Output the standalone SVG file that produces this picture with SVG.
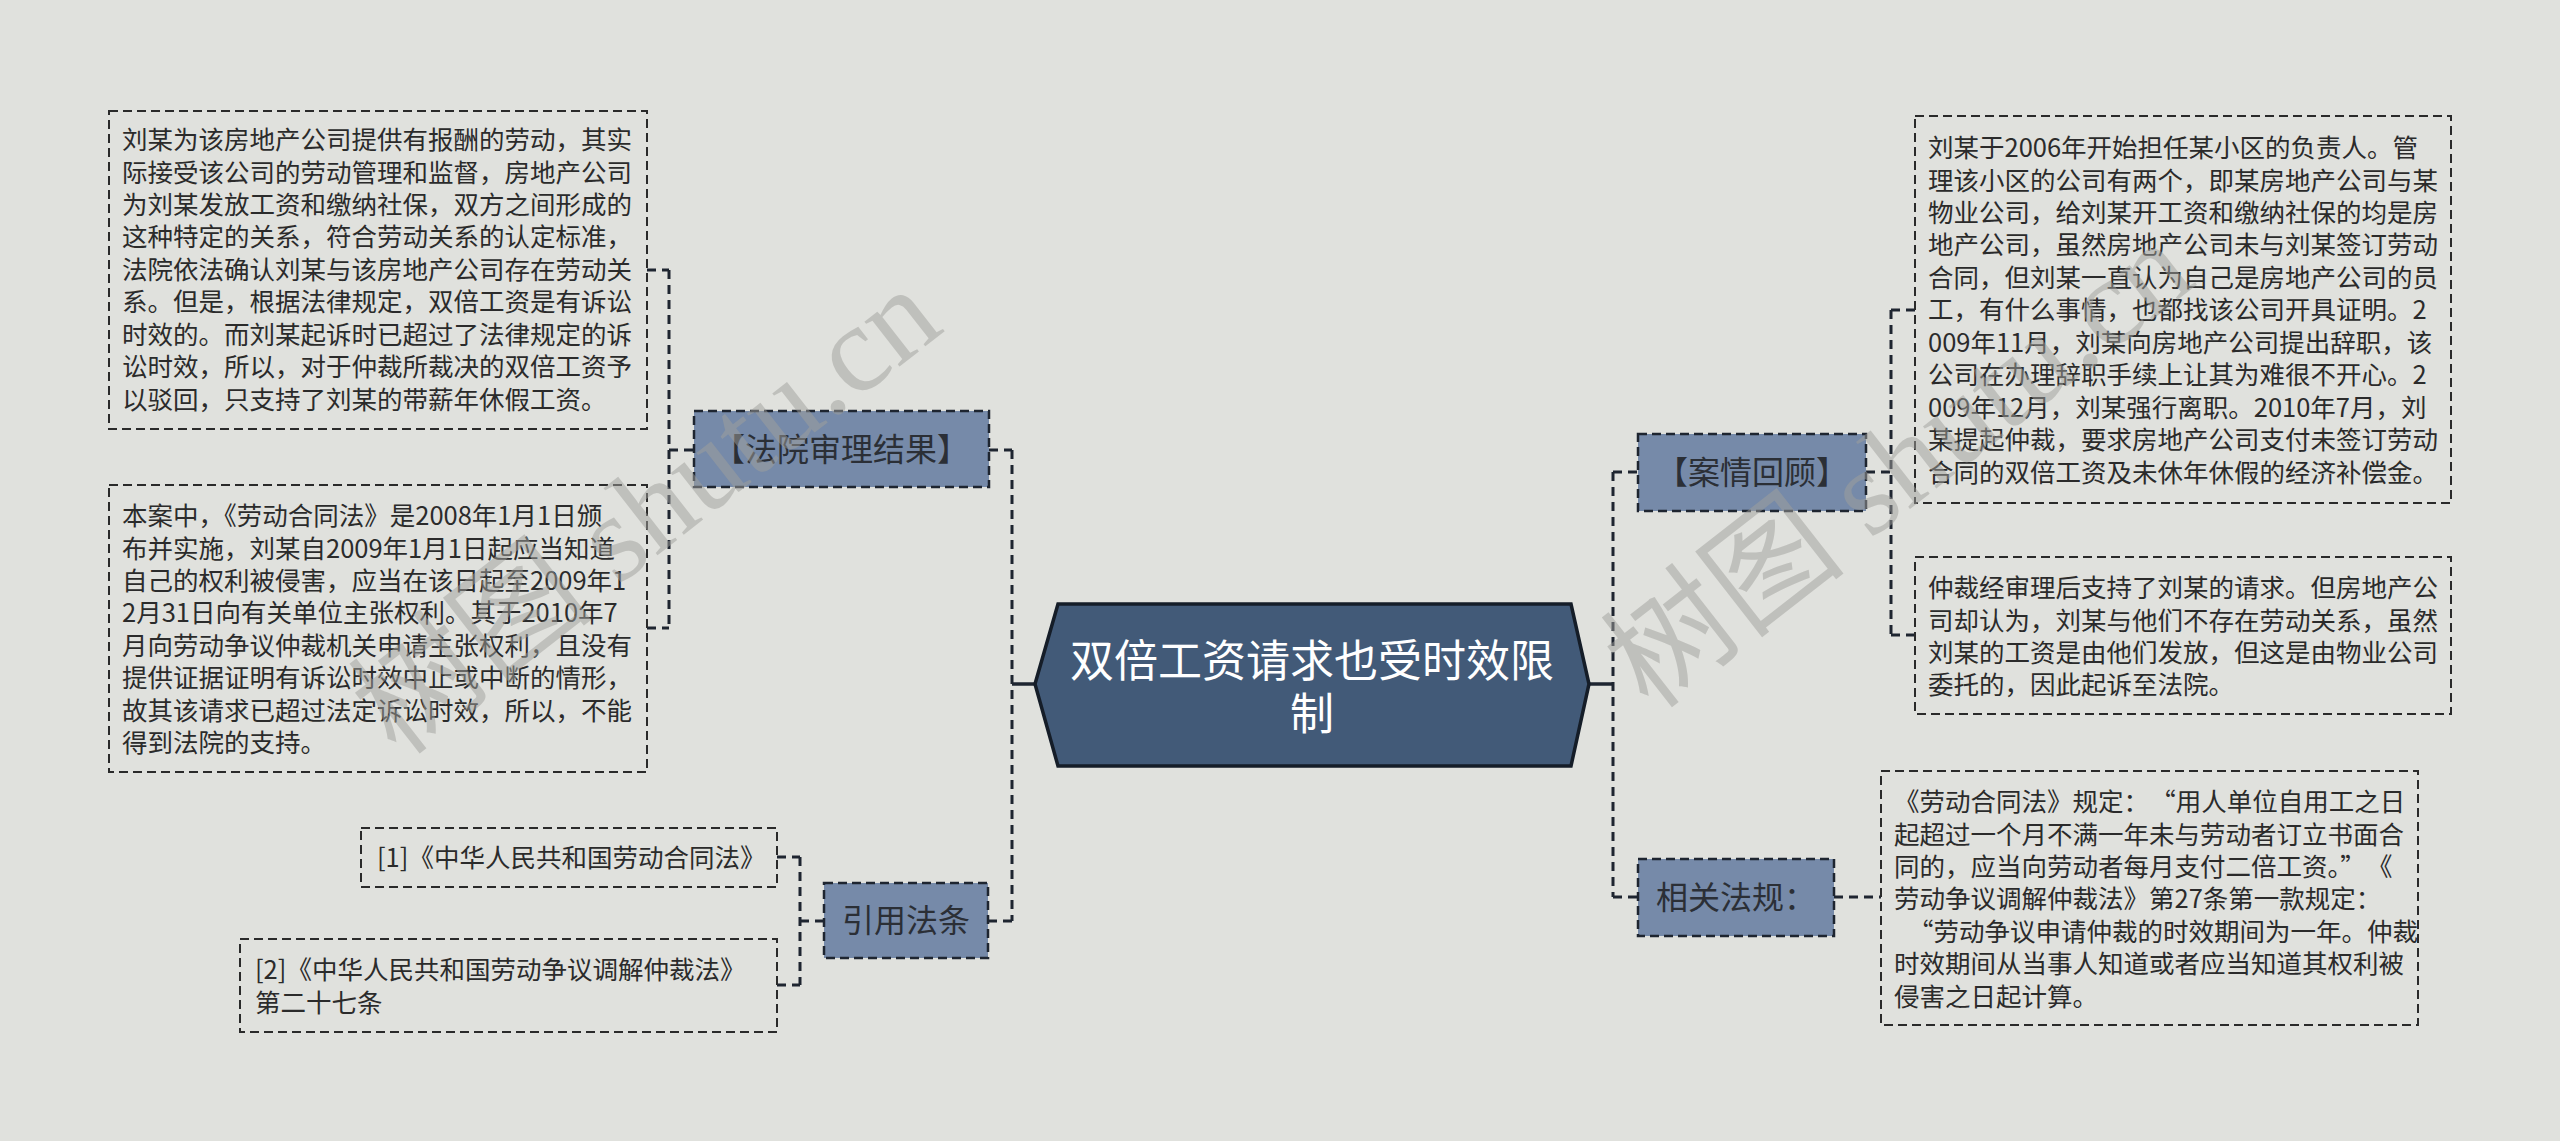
<svg xmlns="http://www.w3.org/2000/svg" width="2560" height="1141" viewBox="0 0 2560 1141">
<style>
.leaf{fill:none;stroke:#2a2a2a;stroke-width:2;stroke-dasharray:9 5}
.l1{fill:#768aa9;stroke:#1e2530;stroke-width:2.5;stroke-dasharray:9 5}
.lt{font-family:"Noto Sans CJK SC","Noto Sans",sans-serif;font-size:25.5px;fill:#2b2b2b}
.t1{font-family:"Noto Sans CJK SC","Noto Sans",sans-serif;font-size:32px;fill:#2b2f36;text-anchor:middle}
.tc{font-family:"Noto Sans CJK SC","Noto Sans",sans-serif;font-size:44px;fill:#ffffff;text-anchor:middle}
.c{fill:none;stroke:#1e2530;stroke-width:3;stroke-dasharray:9 6}
.cs{fill:none;stroke:#1e2530;stroke-width:3.5}
.wm{font-family:"Liberation Serif","Noto Sans CJK SC",serif;font-size:124px;fill:#a0a09c;opacity:0.5}
</style>
<rect x="0" y="0" width="2560" height="1141" fill="#e0e1dd"/>

<g id="connectors">
<path class="cs" d="M1035 684 H1012"/>
<path class="c" d="M1012 450 V921 M989 450 H1012 M988 921 H1012"/>
<path class="c" d="M669 270 V628 M647 270 H669 M647 628 H669 M669 450 H694"/>
<path class="c" d="M800 857 V985 M777 857 H800 M777 985 H800 M800 921 H824"/>
<path class="cs" d="M1589 684 H1613"/>
<path class="c" d="M1613 472 V897 M1613 472 H1638 M1613 897 H1638"/>
<path class="c" d="M1891 310 V635 M1866 472 H1891 M1891 310 H1915 M1891 635 H1915"/>
<path class="c" d="M1834 897 H1881"/>
</g>

<g id="center">
<polygon points="1035,684 1058,604 1571,604 1589,684 1571,766 1058,766" fill="#425a78" stroke="#151d28" stroke-width="3.5"/>
<text class="tc" x="1312" y="677">双倍工资请求也受时效限</text>
<text class="tc" x="1312" y="730">制</text>
</g>

<g id="n-fayuan">
<rect class="l1" x="694" y="411" width="295" height="76"/>
<text class="t1" x="841" y="461">【法院审理结果】</text>
</g>
<g id="n-yinyong">
<rect class="l1" x="824" y="883" width="164" height="75"/>
<text class="t1" x="906" y="932">引用法条</text>
</g>
<g id="n-anqing">
<rect class="l1" x="1638" y="434" width="228" height="77"/>
<text class="t1" x="1752" y="484">【案情回顾】</text>
</g>
<g id="n-fagui">
<rect class="l1" x="1638" y="859" width="196" height="77"/>
<text class="t1" x="1736" y="909">相关法规：</text>
</g>

<g id="leaf-l1">
<rect class="leaf" x="109" y="111" width="538" height="318"/>
<text class="lt" x="122" y="149">刘某为该房地产公司提供有报酬的劳动，其实</text>
<text class="lt" x="122" y="181.5">际接受该公司的劳动管理和监督，房地产公司</text>
<text class="lt" x="122" y="214">为刘某发放工资和缴纳社保，双方之间形成的</text>
<text class="lt" x="122" y="246.4">这种特定的关系，符合劳动关系的认定标准，</text>
<text class="lt" x="122" y="278.8">法院依法确认刘某与该房地产公司存在劳动关</text>
<text class="lt" x="122" y="311.3">系。但是，根据法律规定，双倍工资是有诉讼</text>
<text class="lt" x="122" y="343.7">时效的。而刘某起诉时已超过了法律规定的诉</text>
<text class="lt" x="122" y="376.2">讼时效，所以，对于仲裁所裁决的双倍工资予</text>
<text class="lt" x="122" y="408.6">以驳回，只支持了刘某的带薪年休假工资。</text>
</g>

<g id="leaf-l2">
<rect class="leaf" x="109" y="485" width="538" height="287"/>
<text class="lt" x="122" y="525">本案中，《劳动合同法》是2008年1月1日颁</text>
<text class="lt" x="122" y="557.5">布并实施，刘某自2009年1月1日起应当知道</text>
<text class="lt" x="122" y="590">自己的权利被侵害，应当在该日起至2009年1</text>
<text class="lt" x="122" y="622.4">2月31日向有关单位主张权利。其于2010年7</text>
<text class="lt" x="122" y="654.8">月向劳动争议仲裁机关申请主张权利，且没有</text>
<text class="lt" x="122" y="687.3">提供证据证明有诉讼时效中止或中断的情形，</text>
<text class="lt" x="122" y="719.7">故其该请求已超过法定诉讼时效，所以，不能</text>
<text class="lt" x="122" y="752.2">得到法院的支持。</text>
</g>

<g id="leaf-c1">
<rect class="leaf" x="361" y="828" width="416" height="59"/>
<text class="lt" x="377" y="867">[1]《中华人民共和国劳动合同法》</text>
</g>
<g id="leaf-c2">
<rect class="leaf" x="240" y="939" width="537" height="93"/>
<text class="lt" x="255" y="979">[2]《中华人民共和国劳动争议调解仲裁法》</text>
<text class="lt" x="255" y="1011.5">第二十七条</text>
</g>

<g id="leaf-r1">
<rect class="leaf" x="1915" y="116" width="536" height="387"/>
<text class="lt" x="1928" y="157">刘某于2006年开始担任某小区的负责人。管</text>
<text class="lt" x="1928" y="189.5">理该小区的公司有两个，即某房地产公司与某</text>
<text class="lt" x="1928" y="222">物业公司，给刘某开工资和缴纳社保的均是房</text>
<text class="lt" x="1928" y="254.4">地产公司，虽然房地产公司未与刘某签订劳动</text>
<text class="lt" x="1928" y="286.8">合同，但刘某一直认为自己是房地产公司的员</text>
<text class="lt" x="1928" y="319.3">工，有什么事情，也都找该公司开具证明。2</text>
<text class="lt" x="1928" y="351.7">009年11月，刘某向房地产公司提出辞职，该</text>
<text class="lt" x="1928" y="384.2">公司在办理辞职手续上让其为难很不开心。2</text>
<text class="lt" x="1928" y="416.6">009年12月，刘某强行离职。2010年7月，刘</text>
<text class="lt" x="1928" y="449">某提起仲裁，要求房地产公司支付未签订劳动</text>
<text class="lt" x="1928" y="481.5">合同的双倍工资及未休年休假的经济补偿金。</text>
</g>

<g id="leaf-r2">
<rect class="leaf" x="1915" y="557" width="536" height="157"/>
<text class="lt" x="1928" y="597">仲裁经审理后支持了刘某的请求。但房地产公</text>
<text class="lt" x="1928" y="629.5">司却认为，刘某与他们不存在劳动关系，虽然</text>
<text class="lt" x="1928" y="662">刘某的工资是由他们发放，但这是由物业公司</text>
<text class="lt" x="1928" y="694.4">委托的，因此起诉至法院。</text>
</g>

<g id="leaf-r3">
<rect class="leaf" x="1881" y="771" width="537" height="254"/>
<text class="lt" x="1894" y="811">《劳动合同法》规定：<tspan dx="14">“</tspan>用人单位自用工之日</text>
<text class="lt" x="1894" y="843.5">起超过一个月不满一年未与劳动者订立书面合</text>
<text class="lt" x="1894" y="876">同的，应当向劳动者每月支付二倍工资。”<tspan dx="14">《</tspan></text>
<text class="lt" x="1894" y="908.4">劳动争议调解仲裁法》第27条第一款规定：</text>
<text class="lt" x="1908" y="940.8">“劳动争议申请仲裁的时效期间为一年。仲裁</text>
<text class="lt" x="1894" y="973.3">时效期间从当事人知道或者应当知道其权利被</text>
<text class="lt" x="1894" y="1005.7">侵害之日起计算。</text>
</g>

<g id="watermark">
<text class="wm" x="946" y="330" text-anchor="end" transform="rotate(-38 946 330)">树图 shutu.cn</text>
<text class="wm" x="1650" y="712" transform="rotate(-38 1650 712)">树图 shutu.cn</text>
</g>
</svg>
